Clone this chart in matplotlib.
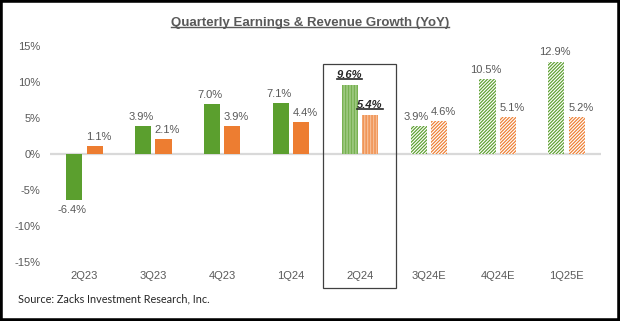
import matplotlib
matplotlib.use("Agg")
import matplotlib.pyplot as plt
import numpy as np
from matplotlib.patches import Rectangle
from matplotlib.lines import Line2D

categories = ['2Q23', '3Q23', '4Q23', '1Q24', '2Q24', '3Q24E', '4Q24E', '1Q25E']
earnings = [-6.4, 3.9, 7.0, 7.1, 9.6, 3.9, 10.5, 12.9]
revenue = [1.1, 2.1, 3.9, 4.4, 5.4, 4.6, 5.1, 5.2]
yticks = [-15, -10, -5, 0, 5, 10, 15]
ytick_labels = ['-15%', '-10%', '-5%', '0%', '5%', '10%', '15%']
current_idx = 4
estimate_idx = [5, 6, 7]

GREEN = '#5B9F2E'
ORANGE = '#ED7D31'
GREEN_LIGHT = '#B7D9A0'
ORANGE_LIGHT = '#F8C9A8'
GRAY = '#595959'

plt.rcParams['font.family'] = ['Liberation Sans', 'DejaVu Sans']
plt.rcParams['hatch.linewidth'] = 0.85

fig = plt.figure(figsize=(6.2, 3.21), dpi=100)
W, H = 620, 321
ax = fig.add_axes([50 / W, 1 - 261.5 / H, 551 / W, 215 / H])

x = np.arange(len(categories))
bw = 0.235
off = 0.148

for i in range(len(categories)):
    for val, dx, col, light in ((earnings[i], -off, GREEN, GREEN_LIGHT),
                                (revenue[i], off, ORANGE, ORANGE_LIGHT)):
        if i in estimate_idx:
            ax.bar(x[i] + dx, val, bw, facecolor='white', edgecolor=col,
                   hatch='/' * 10, linewidth=0, zorder=3)
        elif i == current_idx:
            bars = ax.bar(x[i] + dx, val, bw, facecolor=col, edgecolor=light,
                          hatch='|' * 11, linewidth=0, zorder=3)
            for b in bars:
                if hasattr(b, 'set_hatch_linewidth'):
                    b.set_hatch_linewidth(0.6)
        else:
            ax.bar(x[i] + dx, val, bw, color=col, linewidth=0, zorder=3)

ax.axhline(0, color='#D9D9D9', linewidth=1.6, zorder=2)
ax.set_xlim(-0.5, len(categories) - 0.5)
ax.set_ylim(-15, 15)
ax.set_yticks(yticks)
ax.set_yticklabels(ytick_labels)
ax.set_xticks(x)
ax.set_xticklabels(categories)
ax.tick_params(axis='y', length=0, pad=7, labelsize=8, labelcolor=GRAY)
ax.tick_params(axis='x', length=0, pad=7, labelsize=8, labelcolor=GRAY)
for s in ax.spines.values():
    s.set_visible(False)

# value labels
underline_texts = []
for i in range(len(categories)):
    for val, dx, hx in ((earnings[i], -off, -2), (revenue[i], off, 4)):
        va = 'bottom' if val >= 0 else 'top'
        dy = 3 if val >= 0 else -4
        if i == current_idx:
            t = ax.annotate(f'{val:.1f}%', (x[i] + dx, val), xytext=(0, dy + 1),
                            textcoords='offset points', ha='center', va=va,
                            fontsize=8, fontweight='bold', fontstyle='italic',
                            color='#262626', zorder=5)
            underline_texts.append(t)
        else:
            ax.annotate(f'{val:.1f}%', (x[i] + dx, val), xytext=(hx * 0.72, dy),
                        textcoords='offset points', ha='center', va=va,
                        fontsize=8, color=GRAY, zorder=5)

# highlight box around the current quarter
y_per_px = 30 / 215
ax.add_patch(Rectangle((current_idx - 0.53, (154 - 288) * y_per_px),
                       1.06, (288 - 64) * y_per_px, fill=False,
                       edgecolor='#404040', linewidth=0.9, clip_on=False, zorder=6))

title = fig.text(0.5, 1 - 23 / H, 'Quarterly Earnings & Revenue Growth (YoY)',
                 ha='center', va='center', fontsize=9.5, fontweight='bold',
                 color=GRAY, family=['Liberation Sans Narrow', 'Liberation Sans'])
fig.text(18 / W, 1 - 299 / H, 'Source: Zacks Investment Research, Inc.',
         ha='left', va='center', fontsize=7.8, color='#262626',
         family=['Lato', 'DejaVu Sans'])

# figure border
fig.patches.append(Rectangle((0, 0), 1, 1, transform=fig.transFigure, fill=False,
                             edgecolor='black', linewidth=4, zorder=10))

# underlines
fig.canvas.draw()
r = fig.canvas.get_renderer()
for t, lw, gap in [(title, 1.0, 2.0)] + [(u, 1.2, 1.0) for u in underline_texts]:
    bb = t.get_window_extent(r)
    yy = bb.y0 + gap
    fig.add_artist(Line2D([bb.x0, bb.x1], [yy, yy], transform=None,
                          color=t.get_color(), linewidth=lw))

fig.savefig('out.png', dpi=100)
